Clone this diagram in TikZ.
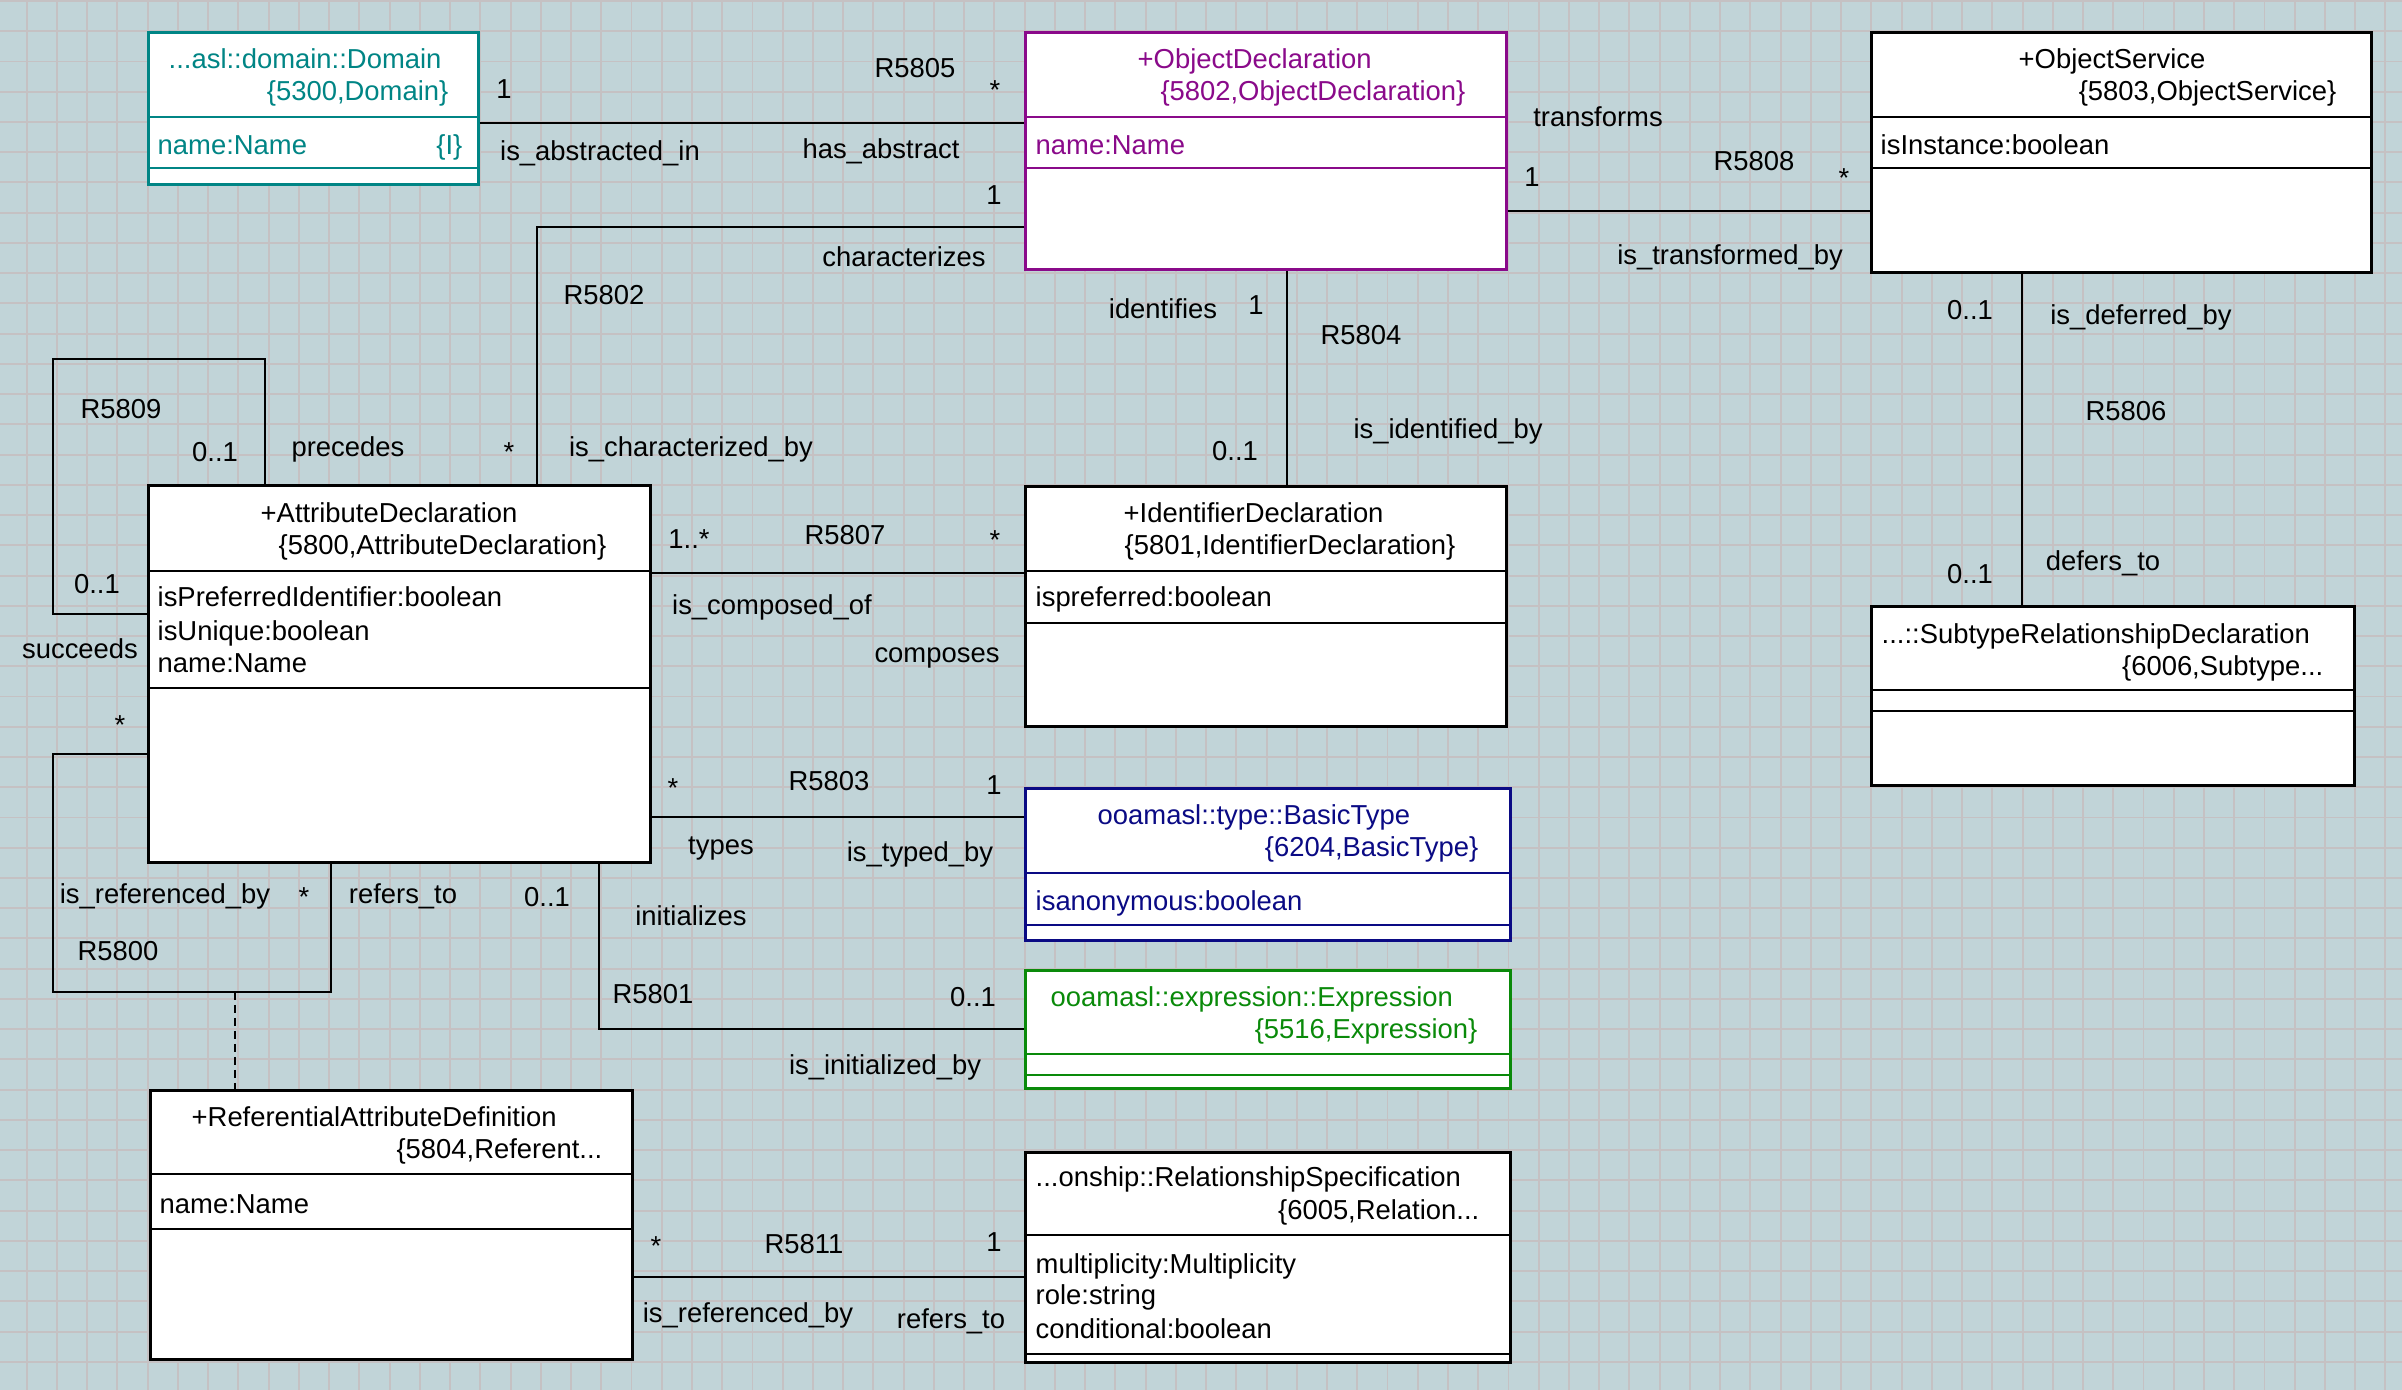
\documentclass[tikz,border=0pt]{standalone}
\usepackage{fontspec}
\setmainfont{Liberation Sans}
\usetikzlibrary{calc}
\definecolor{cdbg}{HTML}{C1D4D8}
\definecolor{cdgrid}{HTML}{C5C1C3}
\definecolor{cdteal}{HTML}{008585}
\definecolor{cdpurple}{HTML}{8A0A8A}
\definecolor{cdnavy}{HTML}{0A0A84}
\definecolor{cdgreen}{HTML}{0A8A0A}

\begin{document}
\begin{tikzpicture}[
  x=1mm, y=-1mm,
  font=\fontsize{7.8}{9}\selectfont,
  cls/.style={draw=#1, fill=white, line width=0.8pt, anchor=north west, inner sep=0pt},
  cls/.default=black,
  txt/.style={inner sep=0pt, anchor=base west, yshift=-0.4pt, text=#1},
  txt/.default=black,
  txtr/.style={inner sep=0pt, anchor=base east, yshift=-0.4pt, text=#1},
  txtr/.default=black,
  assoc/.style={draw=black, line width=0.55pt},
  lbl/.style={inner sep=0pt, anchor=base, yshift=-0.4pt},
  gridline/.style={draw=cdgrid, line width=0.55pt},
]

  %% Canvas and grid
  \useasboundingbox (0,0) rectangle (240.2,139);
  \fill[cdbg] (0,0) rectangle (240.2,139);
  \foreach \gx in {0,...,78}
    \draw[gridline] ({2.67+3.024*\gx},0) -- ++(0,139);
  \foreach \gy in {0,...,45}
    \draw[gridline] (0,{0.1+3.024*\gy}) -- ++(240.2,0);

  %% Classes
  \node[cls=cdteal, minimum width=33mm, minimum height=15.2mm]     (domain)    at (14.7,3.1)   {};
  \node[cls=cdpurple, minimum width=48.1mm, minimum height=23.7mm] (objdecl)   at (102.4,3.1)  {};
  \node[cls, minimum width=50mm, minimum height=24mm]              (objserv)   at (187,3.1)    {};
  \node[cls, minimum width=50.2mm, minimum height=37.7mm]          (attrdecl)  at (14.7,48.4)  {};
  \node[cls, minimum width=48.1mm, minimum height=24mm]            (identdecl) at (102.4,48.5) {};
  \node[cls=cdnavy, minimum width=48.5mm, minimum height=15.2mm]   (basictype) at (102.4,78.7) {};
  \node[cls, minimum width=48.3mm, minimum height=17.9mm]          (subtype)   at (187,60.5)   {};
  \node[cls=cdgreen, minimum width=48.5mm, minimum height=11.8mm]  (expr)      at (102.4,96.9) {};
  \node[cls, minimum width=48.5mm, minimum height=21mm]            (relspec)   at (102.4,115.1) {};
  \node[cls, minimum width=48.2mm, minimum height=26.9mm]          (refattr)   at (14.9,108.9) {};

  %% Compartment lines (header / attributes / operations)
  \foreach \c/\h/\a/\col in {domain/8.6/13.7/cdteal, objdecl/8.6/13.7/cdpurple,
      objserv/8.6/13.7/black, attrdecl/8.7/20.4/black, identdecl/8.6/13.8/black,
      basictype/8.6/13.8/cdnavy, subtype/8.5/10.6/black, expr/8.5/10.6/cdgreen,
      relspec/8.4/20.3/black, refattr/8.5/14.0/black}
  {
    \draw[draw=\col, line width=0.8pt] ($(\c.north west)+(0,\h)$) -- ($(\c.north east)+(0,\h)$);
    \draw[draw=\col, line width=0.8pt] ($(\c.north west)+(0,\a)$) -- ($(\c.north east)+(0,\a)$);
  }

  %% Class texts
  \node[txt=cdteal]  (domain-l1) at (16.8,6.7)  {...asl::domain::Domain};
  \node[txtr=cdteal] (domain-l2) at (44.9,9.9)  {\{5300,Domain\}};
  \node[txt=cdteal]  (domain-a1) at (15.7,15.3) {name:Name};
  \node[txtr=cdteal] (domain-id) at (46.3,15.3) {\{I\}};

  \node[txt=cdpurple]  (objdecl-l1) at (113.7,6.7)  {+ObjectDeclaration};
  \node[txtr=cdpurple] (objdecl-l2) at (146.6,9.9)  {\{5802,ObjectDeclaration\}};
  \node[txt=cdpurple]  (objdecl-a1) at (103.5,15.3) {name:Name};

  \node[txt]  (objserv-l1) at (201.8,6.7)  {+ObjectService};
  \node[txtr] (objserv-l2) at (233.7,9.9)  {\{5803,ObjectService\}};
  \node[txt]  (objserv-a1) at (188.0,15.3) {isInstance:boolean};

  \node[txt]  (attrdecl-l1) at (26.0,52.1) {+AttributeDeclaration};
  \node[txtr] (attrdecl-l2) at (60.7,55.3) {\{5800,AttributeDeclaration\}};
  \node[txt]  (attrdecl-a1) at (15.7,60.5) {isPreferredIdentifier:boolean};
  \node[txt]  (attrdecl-a2) at (15.7,63.9) {isUnique:boolean};
  \node[txt]  (attrdecl-a3) at (15.7,67.1) {name:Name};

  \node[txt] (identdecl-l1) at (112.3,52.1) {+IdentifierDeclaration};
  \node[txt] (identdecl-l2) at (112.4,55.3) {\{5801,IdentifierDeclaration\}};
  \node[txt] (identdecl-a1) at (103.5,60.5) {ispreferred:boolean};

  \node[txt=cdnavy]  (basictype-l1) at (109.7,82.3) {ooamasl::type::BasicType};
  \node[txtr=cdnavy] (basictype-l2) at (147.9,85.5) {\{6204,BasicType\}};
  \node[txt=cdnavy]  (basictype-a1) at (103.5,90.9) {isanonymous:boolean};

  \node[txt]  (subtype-l1) at (188.1,64.2) {...::SubtypeRelationshipDeclaration};
  \node[txtr] (subtype-l2) at (232.4,67.4) {\{6006,Subtype...};

  \node[txt=cdgreen]  (expr-l1) at (105.0,100.5) {ooamasl::expression::Expression};
  \node[txtr=cdgreen] (expr-l2) at (147.8,103.7) {\{5516,Expression\}};

  \node[txt]  (relspec-l1) at (103.5,118.5) {...onship::RelationshipSpecification};
  \node[txtr] (relspec-l2) at (148.0,121.8) {\{6005,Relation...};
  \node[txt]  (relspec-a1) at (103.5,127.2) {multiplicity:Multiplicity};
  \node[txt]  (relspec-a2) at (103.5,130.3) {role:string};
  \node[txt]  (relspec-a3) at (103.5,133.7) {conditional:boolean};

  \node[txt]  (refattr-l1) at (19.1,112.5) {+ReferentialAttributeDefinition};
  \node[txtr] (refattr-l2) at (60.3,115.7) {\{5804,Referent...};
  \node[txt]  (refattr-a1) at (15.9,121.2) {name:Name};

  %% Associations
  \draw[assoc] ($(domain.north east)+(0,9.2)$) -- ($(objdecl.north west)+(0,9.2)$); % R5805
  \draw[assoc] ($(objdecl.north west)+(0,19.6)$) -| ($(attrdecl.north west)+(39,0)$); % R5802
  \draw[assoc] ($(attrdecl.north west)+(11.8,0)$) -- ++(0,-12.5) -- ++(-21.2,0)
               |- ($(attrdecl.north west)+(0,13)$); % R5809
  \draw[assoc] ($(objdecl.south west)+(26.3,0)$) coordinate (r5804a)
               -- (r5804a |- identdecl.north); % R5804
  \draw[assoc] ($(objdecl.north east)+(0,18)$) -- ($(objserv.north west)+(0,18)$); % R5808
  \draw[assoc] ($(objserv.south west)+(15.2,0)$) coordinate (r5806a)
               -- (r5806a |- subtype.north); % R5806
  \draw[assoc] ($(attrdecl.north east)+(0,8.9)$) -- ($(identdecl.north west)+(0,8.8)$); % R5807
  \draw[assoc] ($(attrdecl.north east)+(0,33.3)$) coordinate (r5803a)
               -- (r5803a -| basictype.west); % R5803
  \draw[assoc] ($(attrdecl.south west)+(45.2,0)$) |- (expr.west); % R5801
  \draw[assoc] ($(attrdecl.north west)+(0,27)$) -- ++(-9.4,0)
               |- ($(attrdecl.south west)+(18.4,12.8)$) -- ($(attrdecl.south west)+(18.4,0)$); % R5800
  \coordinate (r5800link) at ($(attrdecl.south west)+(8.8,12.8)$);
  \draw[assoc, dash pattern=on 0.8mm off 0.5mm] (r5800link) -- (r5800link |- refattr.north);
  \draw[assoc] ($(refattr.north east)+(0,18.8)$) coordinate (r5811a)
               -- (r5811a -| relspec.west); % R5811

  %% Association labels: roles, multiplicities, numbers
  \foreach \t/\lx/\ly [count=\i] in {
      1/50.4/9.7, is\_abstracted\_in/60.0/15.9, R5805/91.5/7.6, */99.5/9.8, has\_abstract/88.1/15.7,
      1/99.4/20.3, characterizes/90.4/26.5, R5802/60.4/30.3, */50.9/46.0, is\_characterized\_by/69.1/45.5,
      R5809/12.1/41.7, 0..1/21.5/46.0, precedes/34.8/45.5, 0..1/9.7/59.2, succeeds/8.0/65.7,
      identifies/116.3/31.7, 1/125.6/31.3, R5804/136.1/34.3, is\_identified\_by/144.8/43.7, 0..1/123.5/45.9,
      transforms/159.8/12.5, 1/153.2/18.5, R5808/175.4/16.9, */184.4/18.6, is\_transformed\_by/173.0/26.3,
      0..1/197.0/31.8, is\_deferred\_by/214.1/32.3, R5806/212.6/41.9, defers\_to/210.3/56.9, 0..1/197.0/58.2,
      1..*/68.9/54.7, R5807/84.5/54.3, */99.5/54.8, is\_composed\_of/77.2/61.3, composes/93.7/66.1,
      */67.3/79.6, R5803/82.9/78.9, 1/99.4/79.3, types/72.1/85.3, is\_typed\_by/92.0/86.0,
      */12.0/73.3, is\_referenced\_by/16.5/90.2, */30.4/90.5, refers\_to/40.3/90.2, R5800/11.8/95.9,
      0..1/54.7/90.5, initializes/69.1/92.4, R5801/65.3/100.2, 0..1/97.3/100.5, is\_initialized\_by/88.5/107.3,
      */65.6/125.4, R5811/80.4/125.2, 1/99.4/125.0, is\_referenced\_by/74.8/132.1, refers\_to/95.1/132.7}
    \node[lbl] (lbl\i) at (\lx,\ly) {\t};

\end{tikzpicture}
\end{document}
